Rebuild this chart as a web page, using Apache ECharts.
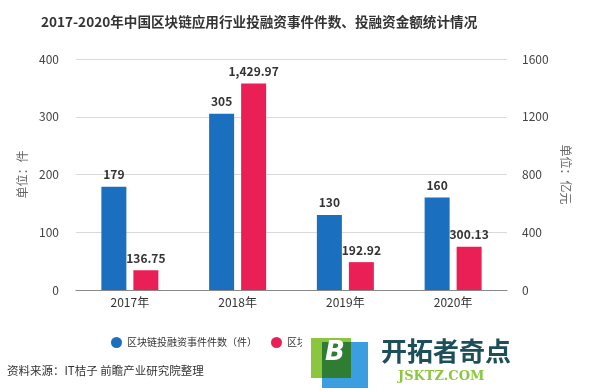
<!DOCTYPE html>
<html><head><meta charset="utf-8">
<script src="https://cdn.jsdelivr.net/npm/echarts@6/dist/echarts.min.js"></script>
<style>html,body{margin:0;padding:0;background:#fff}#c{width:593px;height:391px}</style>
</head><body><div id="c"></div>
<script>
var categories = ['2017年', '2018年', '2019年', '2020年'];
var eventCounts = [179, 305, 130, 160];
var amounts = [136.75, 1429.97, 192.92, 300.13];
var leftTicks = [0, 100, 200, 300, 400];
var rightTicks = [0, 400, 800, 1200, 1600];
var seriesNames = ['区块链投融资事件件数（件）', '区块链投融资金额（亿元）'];

var FONT = '"Noto Sans CJK SC", "Noto Sans", sans-serif';
var chart = echarts.init(document.getElementById('c'));
function fmt(v) {
  var s = v.toFixed(2).split('.');
  return s[0].replace(/\B(?=(\d{3})+(?!\d))/g, ',') + '.' + s[1];
}
chart.setOption({
  animation: false,
  textStyle: { fontFamily: FONT },
  title: {
    text: '2017-2020年中国区块链应用行业投融资事件件数、投融资金额统计情况',
    left: 36, top: 10,
    textStyle: { fontSize: 13.6, fontWeight: 'bold', color: '#333', fontFamily: FONT }
  },
  grid: { left: 76, right: 86, top: 59, bottom: 101 },
  legend: {
    data: seriesNames, left: 106, top: 332, icon: 'circle',
    itemWidth: 11, itemHeight: 11, itemGap: 14,
    textStyle: { fontSize: 10, color: '#333', fontFamily: FONT }
  },
  xAxis: {
    type: 'category', data: categories,
    axisLine: { lineStyle: { color: '#888' } },
    axisTick: { alignWithLabel: true, lineStyle: { color: '#888' } },
    axisLabel: { color: '#333', fontSize: 12, margin: 6 }
  },
  yAxis: [{
    type: 'value', min: leftTicks[0], max: leftTicks[leftTicks.length - 1], interval: 100,
    name: '单位：件', nameLocation: 'middle', nameGap: 45,
    nameTextStyle: { color: '#666', fontSize: 12 },
    axisLine: { show: false }, axisTick: { show: false },
    axisLabel: { color: '#444', fontSize: 12, margin: 17 },
    splitLine: { lineStyle: { color: '#d9d9d9' } }
  }, {
    type: 'value', min: rightTicks[0], max: rightTicks[rightTicks.length - 1], interval: 400,
    name: '单位：亿元', nameLocation: 'middle', nameGap: 50, nameRotate: -90,
    nameTextStyle: { color: '#666', fontSize: 12 },
    axisLine: { show: false }, axisTick: { show: false },
    axisLabel: { color: '#444', fontSize: 12, margin: 15, formatter: function (v) { return String(v); } },
    splitLine: { show: false }
  }],
  series: [{
    name: seriesNames[0], type: 'bar', data: eventCounts, yAxisIndex: 0,
    barWidth: 25, barGap: '28%',
    itemStyle: { color: '#1a6fbe' },
    label: { show: true, position: 'top', color: '#333', fontWeight: 'bold', fontSize: 12, distance: 6 }
  }, {
    name: seriesNames[1], type: 'bar', data: amounts, yAxisIndex: 1,
    barWidth: 25, barGap: '28%',
    itemStyle: { color: '#ea1f55' },
    label: { show: true, position: 'top', color: '#333', fontWeight: 'bold', fontSize: 12, distance: 6,
      formatter: function (p) { return fmt(p.value); } }
  }],
  graphic: [
    { type: 'text', left: 7, top: 365, z: 10,
      style: { text: '资料来源：IT桔子 前瞻产业研究院整理', fill: '#333', font: '11.5px ' + FONT } },
    { type: 'rect', z: 19, shape: { x: 302, y: 328, width: 230, height: 63 }, style: { fill: '#fff' } },
    { type: 'rect', z: 20, shape: { x: 322, y: 342, width: 46, height: 46 }, style: { fill: '#3a9ee0' } },
    { type: 'rect', z: 21, shape: { x: 311, y: 338, width: 40, height: 40 }, style: { fill: '#8cc63f' } },
    { type: 'rect', z: 22, shape: { x: 322, y: 342, width: 29, height: 36 }, style: { fill: '#2e7d32' } },
    { type: 'text', z: 23, left: 325, top: 340,
      style: { text: 'B', fill: '#fff', font: 'italic bold 26px "DejaVu Sans", sans-serif' } },
    { type: 'text', z: 23, left: 381, top: 338,
      style: { text: '开拓者奇点', fill: '#1d4f5a', font: 'bold 26px ' + FONT } },
    { type: 'text', z: 23, left: 398, top: 370,
      style: { text: 'JSKTZ.COM', fill: '#8cc63f', font: 'bold 13px "DejaVu Serif", serif' } }
  ]
});
</script>
</body></html>
